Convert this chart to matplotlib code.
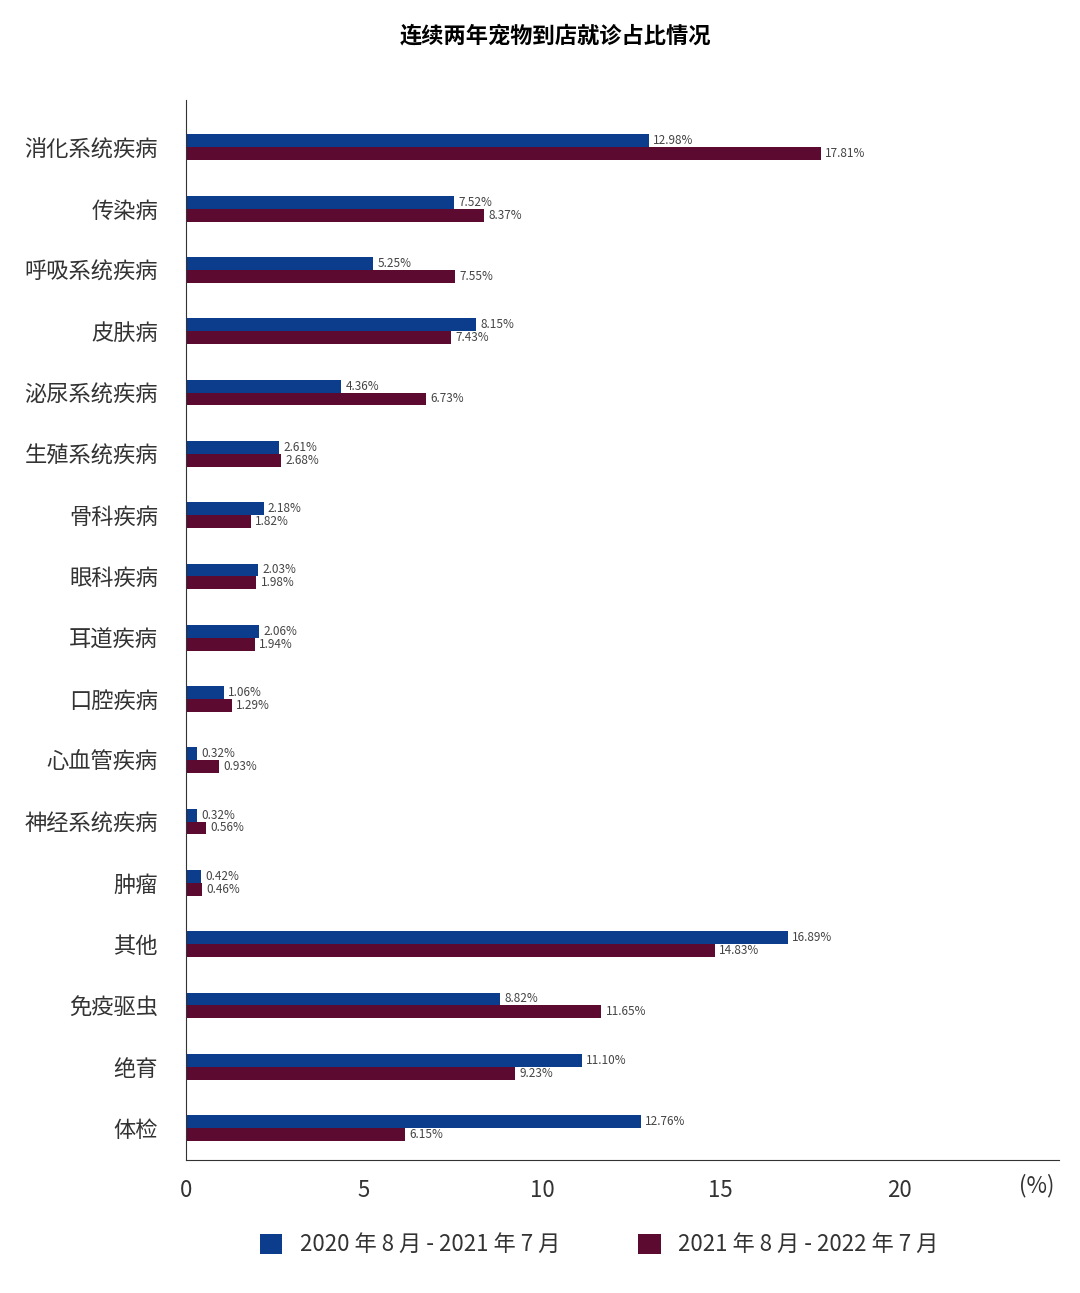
import matplotlib
matplotlib.use("Agg")
import matplotlib.pyplot as plt
from matplotlib import font_manager as fm
import numpy as np, glob

fam = None
for f in fm.fontManager.ttflist:
    if 'CJK' in f.name and ('SC' in f.name or 'JP' in f.name):
        fam = f.name
        if 'SC' in f.name:
            break
if fam is None:
    for p in glob.glob('/usr/share/fonts/**/*CJK*', recursive=True):
        try:
            fm.fontManager.addfont(p)
        except Exception:
            pass
    for f in fm.fontManager.ttflist:
        if 'CJK' in f.name:
            fam = f.name
            break
plt.rcParams['font.family'] = [fam or 'Noto Sans CJK SC', 'DejaVu Sans']

categories = ["消化系统疾病","传染病","呼吸系统疾病","皮肤病","泌尿系统疾病","生殖系统疾病",
              "骨科疾病","眼科疾病","耳道疾病","口腔疾病","心血管疾病","神经系统疾病",
              "肿瘤","其他","免疫驱虫","绝育","体检"]
s2021 = [12.98,7.52,5.25,8.15,4.36,2.61,2.18,2.03,2.06,1.06,0.32,0.32,0.42,16.89,8.82,11.10,12.76]
s2022 = [17.81,8.37,7.55,7.43,6.73,2.68,1.82,1.98,1.94,1.29,0.93,0.56,0.46,14.83,11.65,9.23,6.15]
series_names = ["2020 年 8 月 - 2021 年 7 月", "2021 年 8 月 - 2022 年 7 月"]
xticks = [0,5,10,15,20]

c1, c2 = "#0b3d8c", "#5c0a2f"
fig = plt.figure(figsize=(10.8,12.93), dpi=100)
ax = fig.add_axes([0.172, 0.103, 0.809, 0.82])
n = len(categories)
y = np.arange(n)[::-1].astype(float)
h = 0.21
ax.barh(y+h/2, s2021, height=h, color=c1, label=series_names[0])
ax.barh(y-h/2, s2022, height=h, color=c2, label=series_names[1])
for yi, a, b in zip(y, s2021, s2022):
    ax.text(a+0.12, yi+h/2, f"{a:.2f}%", va='center', ha='left', fontsize=8.5, color='#444444')
    ax.text(b+0.12, yi-h/2, f"{b:.2f}%", va='center', ha='left', fontsize=8.5, color='#444444')
ax.set_yticks(y)
ax.set_yticklabels(categories, fontsize=16, color='#333333')
ax.tick_params(axis='y', length=0, pad=20)
ax.set_xticks(xticks)
ax.set_xticklabels([str(t) for t in xticks], fontsize=16, color='#333333')
ax.tick_params(axis='x', length=0, pad=14)
ax.set_xlim(0, 24.5)
ax.set_ylim(-0.52, n-0.22)
for s in ['top','right']:
    ax.spines[s].set_visible(False)
ax.spines['left'].set_color('#333333')
ax.spines['bottom'].set_color('#333333')
fig.text(0.96, 0.0775, "(%)", fontsize=16, color='#333333', ha='center')
fig.text(0.514, 0.972, "连续两年宠物到店就诊占比情况", ha='center', va='center', fontsize=16, fontweight='bold')
fig.legend(loc='lower center', bbox_to_anchor=(0.555, 0.013), ncol=2, frameon=False,
           fontsize=16, handlelength=1.0, handleheight=1.0, columnspacing=3.5, labelcolor='#333333')
fig.savefig("out.png", dpi=100)
